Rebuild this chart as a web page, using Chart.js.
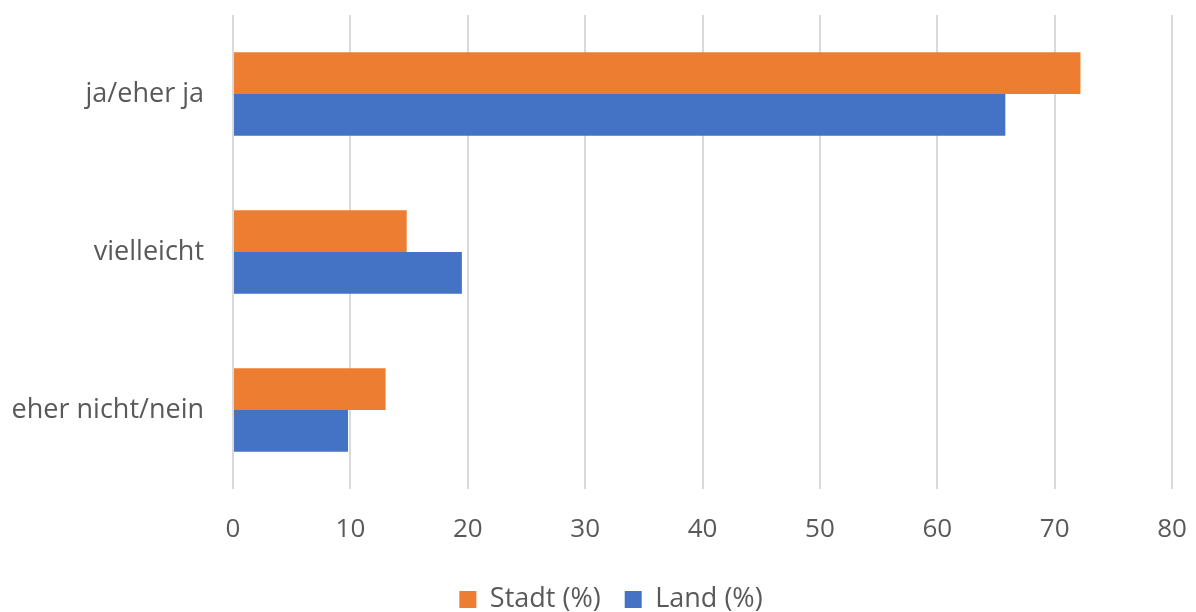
<!DOCTYPE html>
<html>
<head>
<meta charset="utf-8">
<script src="https://cdn.jsdelivr.net/npm/chart.js@4"></script>
<style>
  html, body { margin: 0; padding: 0; background: #fff; }
  #wrap { width: 1196px; height: 612px; }
</style>
</head>
<body>
<div id="wrap"><canvas id="barChart"></canvas></div>
<script>
const categories = ['ja/eher ja', 'vielleicht', 'eher nicht/nein'];
const stadt = [72.2, 14.8, 13.0];
const land = [65.8, 19.5, 9.8];
const xTicks = { min: 0, max: 80, step: 10 };

const textColor = '#595959';
const fontFamily = '"Open Sans", "Noto Sans", sans-serif';

// centre the legend under the plot area instead of the whole canvas
const legendShift = {
    id: 'legendShift',
    afterLayout(chart) {
        const legend = chart.legend;
        if (!legend) return;
        legend.left += 25;
        legend.right += 25;
    }
};

new Chart(document.getElementById('barChart'), {
    type: 'bar',
    data: {
        labels: categories,
        datasets: [
            { label: 'Stadt (%)', data: stadt, backgroundColor: '#ED7D31' },
            { label: 'Land (%)', data: land, backgroundColor: '#4472C4' }
        ]
    },
    options: {
        indexAxis: 'y',
        responsive: true,
        maintainAspectRatio: false,
        animation: false,
        layout: { padding: { top: 15, right: 24, left: 0, bottom: -11 } },
        datasets: { bar: { categoryPercentage: 0.528, barPercentage: 1.0 } },
        scales: {
            x: {
                min: xTicks.min,
                max: xTicks.max,
                ticks: { stepSize: xTicks.step, color: textColor, font: { family: fontFamily, size: 26 }, padding: 25 },
                grid: { color: '#d9d9d9', lineWidth: 2, drawTicks: false },
                border: { display: false },
                afterFit: (scale) => {
                    scale.height = 73;
                    scale.paddingLeft = 0;
                    scale.paddingRight = 0;
                }
            },
            y: {
                ticks: { color: textColor, font: { family: fontFamily, size: 27 }, padding: 29 },
                grid: { display: false, drawTicks: false, tickLength: 0 },
                border: { display: false },
                afterFit: (scale) => {
                    scale.width = 233;
                    scale.paddingTop = 0;
                    scale.paddingBottom = 0;
                }
            }
        },
        plugins: {
            legend: {
                position: 'bottom',
                labels: {
                    color: textColor,
                    font: { family: fontFamily, size: 27 },
                    boxWidth: 17,
                    boxHeight: 17,
                    padding: 24
                }
            },
            tooltip: { enabled: false }
        }
    },
    plugins: [legendShift]
});
</script>
</body>
</html>
